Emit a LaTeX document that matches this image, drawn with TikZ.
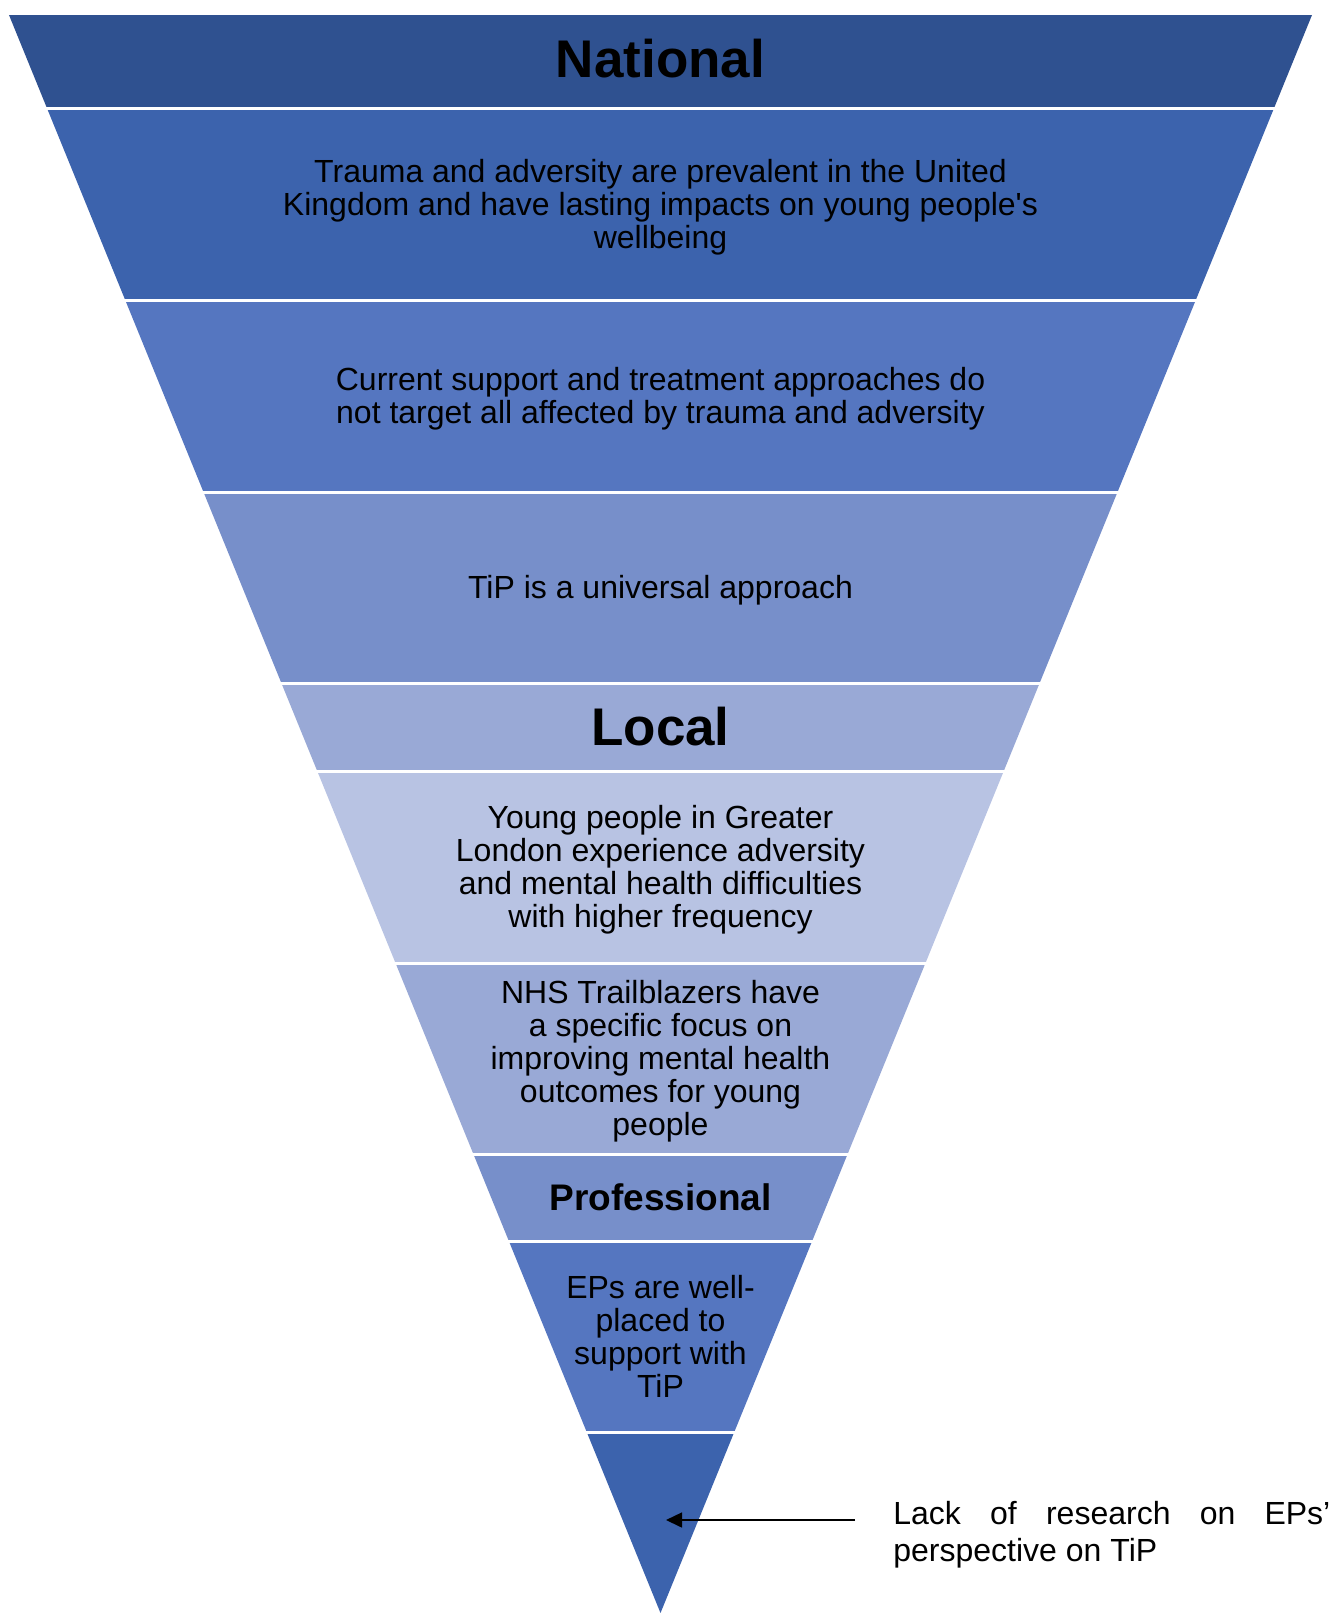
\documentclass[tikz,border=0pt]{standalone}
\usepackage{fontspec}
\setmainfont{Liberation Sans}
\usetikzlibrary{arrows.meta}
\definecolor{cA}{HTML}{2F5190}
\definecolor{cB}{HTML}{3C63AD}
\definecolor{cC}{HTML}{5576C0}
\definecolor{cD}{HTML}{778FCA}
\definecolor{cE}{HTML}{99A9D6}
\definecolor{cF}{HTML}{B8C3E3}
\newcommand{\hwx}[1]{0.4076971*(1613-#1)}
\newcommand{\bandfill}[3]{%
  \fill[#3] ({660.5-\hwx{#1}},#1) -- ({660.5+\hwx{#1}},#1) -- ({660.5+\hwx{#2}},#2) -- ({660.5-\hwx{#2}},#2) -- cycle;}
\tikzset{
  bodytxt/.style={align=center, font=\fontsize{16}{16.5}\selectfont, text=black, inner sep=0pt},
  headtxt/.style={align=center, font=\fontsize{26.5}{28}\selectfont\bfseries, text=black, inner sep=0pt},
  subhead/.style={align=center, font=\fontsize{18.5}{20}\selectfont\bfseries, text=black, inner sep=0pt},
  gapline/.style={draw=white, line width=1.5pt},
  pointer/.style={draw=black, line width=0.75pt, -{Triangle[length=8pt,width=7.5pt]}}
}
\begin{document}
\begin{tikzpicture}[x=0.5pt,y=-0.5pt]
\useasboundingbox (0,0) rectangle (1333,1613);
\bandfill{15}{108}{cA}
\bandfill{108}{300.5}{cB}
\bandfill{300.5}{492}{cC}
\bandfill{492}{683}{cD}
\bandfill{683}{771}{cE}
\bandfill{771}{963}{cF}
\bandfill{963}{1154}{cE}
\bandfill{1154}{1241}{cD}
\bandfill{1241}{1432}{cC}
\fill[cB] ({660.5-\hwx{1432}},1432) -- ({660.5+\hwx{1432}},1432) -- (660.5,1613) -- cycle;
\foreach \yy in {108,300.5,492,683,771,963,1154,1241,1432}
  \draw[gapline] (0,\yy) -- (1333,\yy);
\node[headtxt] (national) at (660.5,59) {National};
\node[bodytxt] (trauma) at (660.5,207) {Trauma and adversity are prevalent in the United\\Kingdom and have lasting impacts on young people\textquotesingle s\\wellbeing};
\node[bodytxt] (support) at (660.5,399) {Current support and treatment approaches do\\not target all affected by trauma and adversity};
\node[bodytxt] (tip) at (660.5,590.5) {TiP is a universal approach};
\node[headtxt] (local) at (660.5,727) {Local};
\node[bodytxt] (london) at (660.5,869.5) {Young people in Greater\\London experience adversity\\and mental health difficulties\\with higher frequency};
\node[bodytxt] (nhs) at (660.5,1061.5) {NHS Trailblazers have\\a specific focus on\\improving mental health\\outcomes for young\\people};
\node[subhead] (prof) at (660.5,1197.5) {Professional};
\node[bodytxt] (eps) at (660.5,1336) {EPs are well-\\placed to\\support with\\TiP};
\node[anchor=north west, align=left, font=\fontsize{16}{18.5}\selectfont, text=black, inner sep=0pt] (lack) at (893,1501)
  {\makebox[218.5pt][s]{Lack of research on EPs’}\\perspective on TiP};
\coordinate (arrstart) at (855,1520);
\coordinate (arrtip) at (666,1520);
\draw[pointer] (arrstart) -- (arrtip);
\end{tikzpicture}
\end{document}
